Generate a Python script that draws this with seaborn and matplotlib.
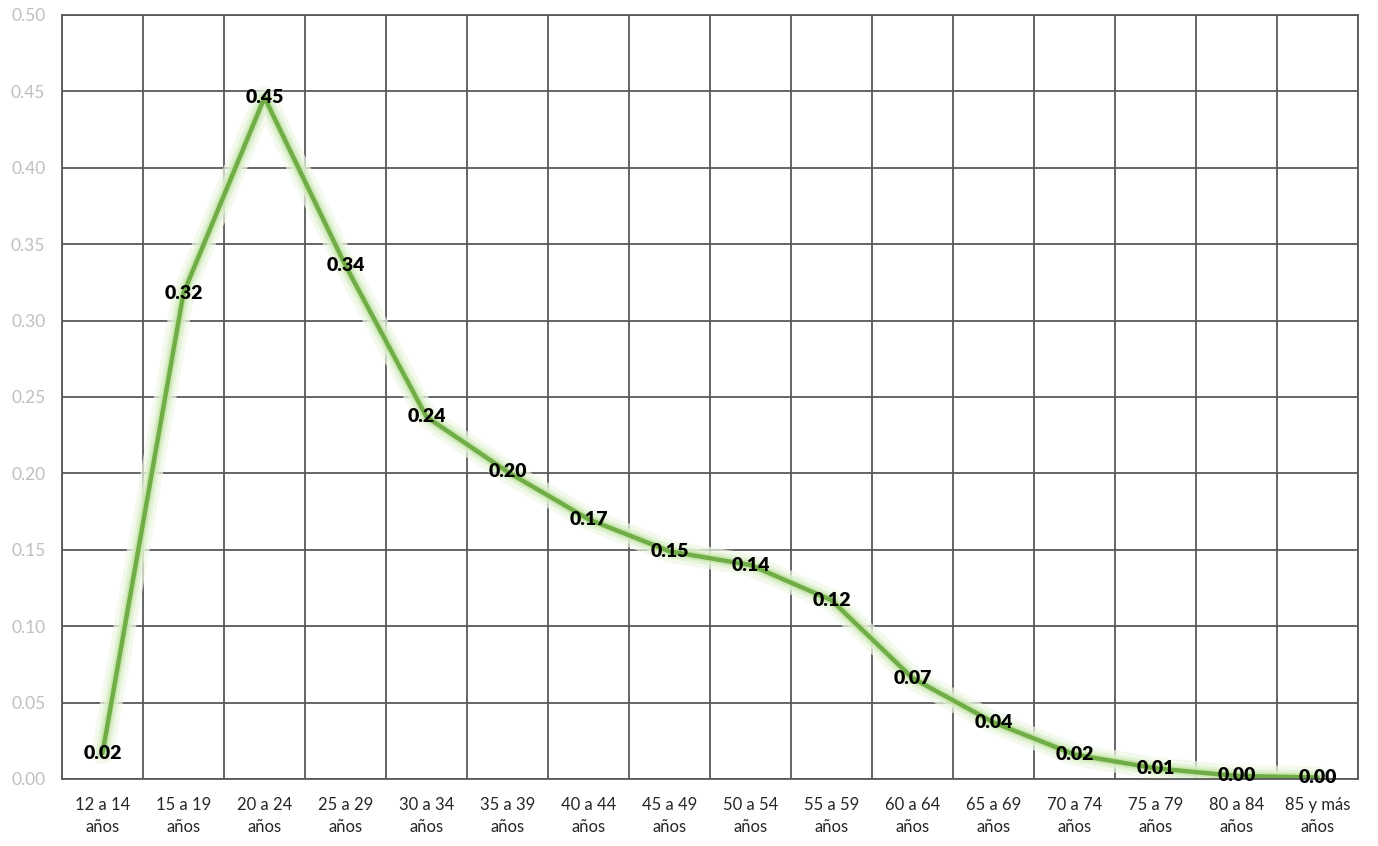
import matplotlib
matplotlib.use("Agg")
import matplotlib.pyplot as plt
import matplotlib.patheffects as pe
import seaborn as sns
import pandas as pd
import numpy as np

# grupos de edad y tasas
grupos = ["12 a 14\naños", "15 a 19\naños", "20 a 24\naños", "25 a 29\naños",
          "30 a 34\naños", "35 a 39\naños", "40 a 44\naños", "45 a 49\naños",
          "50 a 54\naños", "55 a 59\naños", "60 a 64\naños", "65 a 69\naños",
          "70 a 74\naños", "75 a 79\naños", "80 a 84\naños", "85 y más\naños"]
tasas = [0.017, 0.318, 0.446, 0.336, 0.237, 0.201, 0.170, 0.149,
         0.140, 0.117, 0.066, 0.037, 0.016, 0.007, 0.002, 0.001]
y_ticks = [0.00, 0.05, 0.10, 0.15, 0.20, 0.25, 0.30, 0.35, 0.40, 0.45, 0.50]

df = pd.DataFrame({"pos": range(len(grupos)), "tasa": tasas})

sns.set_theme(style="white")
plt.rcParams["font.family"] = ["Lato", "DejaVu Sans"]

fig = plt.figure(figsize=(13.78, 8.46), dpi=100)
ax = fig.add_axes([0.045, 0.0792, 0.9405, 0.9031])

verde = "#70ad47"
sns.lineplot(data=df, x="pos", y="tasa", color=verde, linewidth=3.2, ax=ax,
             path_effects=[pe.Stroke(linewidth=16, foreground="#eef8e6", alpha=0.7),
                           pe.Stroke(linewidth=10, foreground="#dcefcb", alpha=0.7),
                           pe.Stroke(linewidth=6, foreground="#c2e3a4", alpha=0.7),
                           pe.Normal()])

for i, v in enumerate(tasas):
    ax.text(i, v, f"{v:.2f}", ha="center", va="center", fontsize=14,
            fontweight="heavy", color="black", zorder=5)

gris = "#595959"
ax.set_xlim(-0.5, len(grupos) - 0.5)
ax.set_ylim(0, 0.50)
ax.set_xticks(range(len(grupos)))
ax.set_xticklabels(grupos, fontsize=12, color="#262626", linespacing=1.45)
ax.set_xticks(np.arange(-0.5, len(grupos), 1.0), minor=True)
ax.set_yticks(y_ticks)
ax.set_yticklabels([f"{t:.2f}" for t in y_ticks], fontsize=12.5, color="#bfbfbf")
ax.tick_params(axis="both", which="both", length=0)
ax.tick_params(axis="x", pad=13)
ax.tick_params(axis="y", pad=12)

ax.grid(True, axis="y", which="major", color=gris, linewidth=1.3)
ax.grid(True, axis="x", which="minor", color=gris, linewidth=1.3)
ax.set_axisbelow(True)
for s in ax.spines.values():
    s.set_color(gris)
    s.set_linewidth(1.3)

ax.set_xlabel("")
ax.set_ylabel("")

fig.savefig("out.png", dpi=100)
plt.close(fig)
